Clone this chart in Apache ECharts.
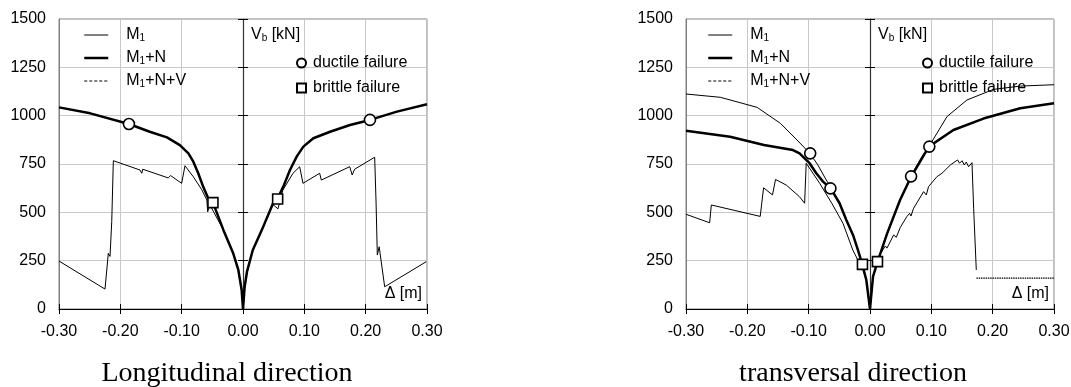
<!DOCTYPE html>
<html>
<head>
<meta charset="utf-8">
<style>
  html, body { margin: 0; padding: 0; background: #fff; }
  #chart { width: 1071px; height: 387px; }
</style>
<script src="https://cdn.jsdelivr.net/npm/echarts@6/dist/echarts.min.js"></script>
</head>
<body>
<div id="chart"></div>
<script>
// ---------- axis ticks ----------
const xTickLabels = ['-0.30', '-0.20', '-0.10', '0.00', '0.10', '0.20', '0.30'];
const yTickLabels = ['0', '250', '500', '750', '1000', '1250', '1500'];
const X_MIN = -0.3, X_MAX = 0.3, X_STEP = 0.1;
const Y_MIN = 0, Y_MAX = 1500, Y_STEP = 250;

// ---------- longitudinal direction: [displacement m, base shear kN] ----------
const longM1 = [[-0.300,1043],[-0.249,1012],[-0.186,957],[-0.152,917],[-0.124,888],[-0.103,848],[-0.089,805],[-0.081,762],[-0.073,702],[-0.065,633],[-0.0566,572],[-0.049,550],[-0.032,409],[-0.016,288],[-0.0076,202],[-0.0022,98],[0,0],[0.0027,115],[0.0065,193],[0.016,305],[0.033,426],[0.049,547],[0.056,569],[0.0657,633],[0.0766,719],[0.0875,788],[0.0984,840],[0.1147,883],[0.142,917],[0.1745,952],[0.207,978],[0.251,1021],[0.300,1059]];
const longM1N = [[-0.300,1043],[-0.249,1012],[-0.186,957],[-0.152,917],[-0.124,888],[-0.103,848],[-0.089,805],[-0.081,762],[-0.073,702],[-0.065,633],[-0.0566,572],[-0.049,550],[-0.032,409],[-0.016,288],[-0.0076,202],[-0.0022,98],[0,0],[0.0027,115],[0.0065,193],[0.016,305],[0.033,426],[0.049,547],[0.056,569],[0.0657,633],[0.0766,719],[0.0875,788],[0.0984,840],[0.1147,883],[0.142,917],[0.1745,952],[0.207,978],[0.251,1021],[0.300,1059]];
const longM1NV = [[-0.300,248],[-0.225,103],[-0.2196,288],[-0.2168,272],[-0.214,452],[-0.2114,767],[-0.168,719],[-0.165,702],[-0.1635,723],[-0.122,678],[-0.118,690],[-0.100,650],[-0.0946,741],[-0.081,684],[-0.067,616],[-0.059,564],[-0.0576,503],[-0.054,538],[-0.032,409],[-0.016,288],[-0.0076,202],[-0.0022,98],[0,0],[0.0027,115],[0.0065,193],[0.016,305],[0.033,426],[0.049,540],[0.057,518],[0.065,615],[0.0815,702],[0.0924,736],[0.0978,650],[0.1005,659],[0.125,702],[0.1277,667],[0.130,676],[0.174,736],[0.178,693],[0.182,723],[0.2147,785],[0.217,547],[0.219,279],[0.222,322],[0.231,115],[0.299,245]];
const longDuctile = [[-0.186,957],[0.207,978]];
const longBrittle = [[-0.049,550],[0.0565,569]];

// ---------- transversal direction ----------
const transM1 = [[-0.300,1112],[-0.244,1095],[-0.184,1043],[-0.146,960],[-0.119,874],[-0.098,805],[-0.085,745],[-0.0713,667],[-0.063,626],[-0.0496,547],[-0.0386,460],[-0.0277,383],[-0.0196,305],[-0.0126,232],[-0.006,150],[0,0],[0.0049,167],[0.0124,247],[0.028,393],[0.049,566],[0.067,690],[0.085,790],[0.097,845],[0.1255,995],[0.158,1081],[0.2015,1136],[0.245,1153],[0.300,1160]];
const transM1N = [[-0.300,922],[-0.228,891],[-0.173,848],[-0.1256,822],[-0.1148,805],[-0.1066,779],[-0.0985,754],[-0.0876,702],[-0.0766,659],[-0.0642,624],[-0.0496,547],[-0.0386,460],[-0.0277,383],[-0.0196,305],[-0.0126,231],[-0.006,150],[0,0],[0.0049,167],[0.0124,245],[0.028,391],[0.049,564],[0.067,684],[0.096,840],[0.136,926],[0.185,985],[0.245,1038],[0.300,1064]];
const transM1NV = [[-0.300,490],[-0.2615,446],[-0.2587,538],[-0.179,479],[-0.1735,627],[-0.159,590],[-0.154,670],[-0.1365,641],[-0.115,581],[-0.1066,547],[-0.104,754],[-0.082,650],[-0.062,545],[-0.059,552],[-0.044,443],[-0.028,305],[-0.017,236],[-0.0126,215],[-0.006,150],[0,0],[0.0049,167],[0.0124,245],[0.014,271],[0.025,326],[0.0277,315],[0.0385,383],[0.0429,371],[0.0494,422],[0.060,478],[0.0646,495],[0.0668,481],[0.0711,521],[0.0874,607],[0.0918,590],[0.0955,633],[0.109,684],[0.1174,702],[0.131,745],[0.1428,771],[0.146,754],[0.150,767],[0.1537,745],[0.157,760],[0.1608,736],[0.1663,757],[0.169,521],[0.1733,202]];
const transM1NVTail = [[0.1735,160],[0.300,160]];
const transDuctile = [[-0.0975,805],[-0.0645,624],[0.067,686],[0.0967,840]];
const transBrittle = [[-0.0123,231],[0.0122,245]];

// ---------- styling ----------
const SANS = '"Liberation Sans", Arial, Helvetica, sans-serif';
const SERIF = '"Liberation Serif", "Times New Roman", serif';
const GRID_GRAY = '#c8c8c8';
const subRich = { s: { fontSize: 10, fontFamily: SANS, color: '#000', verticalAlign: 'bottom', lineHeight: 6 } };
const HIDDEN_SYMBOL = { color: 'rgba(0,0,0,0)', borderColor: 'rgba(0,0,0,0)', borderWidth: 0, opacity: 0 };

const grids = [
  { left: 59, top: 19, width: 368, height: 290 },
  { left: 686, top: 19, width: 368, height: 290 }
];

function xAxes(gridIndex) {
  const base = {
    type: 'value', gridIndex, min: X_MIN, max: X_MAX, interval: X_STEP, position: 'bottom'
  };
  return [
    Object.assign({}, base, {
      axisLine: { show: true, onZero: false, lineStyle: { color: '#000', width: 1 } },
      axisTick: { show: true, inside: false, length: 5, lineStyle: { color: '#000', width: 1 } },
      axisLabel: {
        margin: 15, fontSize: 16, fontFamily: SANS, color: '#000',
        formatter: v => xTickLabels[Math.round((v - X_MIN) / X_STEP)]
      },
      splitLine: { show: true, lineStyle: { color: GRID_GRAY, width: 1 } },
      name: 'Δ [m]', nameLocation: 'end', nameGap: -5,
      nameTextStyle: { fontSize: 16, fontFamily: SANS, color: '#000', align: 'right', verticalAlign: 'bottom', padding: [0, 0, 7, 0] }
    }),
    Object.assign({}, base, {
      axisLine: { show: false, onZero: false },
      axisTick: { show: true, inside: true, length: 5, lineStyle: { color: '#000', width: 1 } },
      axisLabel: { show: false },
      splitLine: { show: false }
    })
  ];
}

function yAxes(gridIndex) {
  const base = { type: 'value', gridIndex, min: Y_MIN, max: Y_MAX, interval: Y_STEP };
  return [
    Object.assign({}, base, {
      position: 'left',
      axisLine: { show: true, onZero: false, lineStyle: { color: '#808080', width: 1 } },
      axisTick: { show: false },
      axisLabel: {
        margin: 13, fontSize: 16, fontFamily: SANS, color: '#000',
        formatter: v => yTickLabels[Math.round(v / Y_STEP)]
      },
      splitLine: { show: true, lineStyle: { color: GRID_GRAY, width: 1 } }
    }),
    // vertical axis through zero displacement
    Object.assign({}, base, {
      position: 'left',
      axisLine: { show: true, onZero: true, lineStyle: { color: '#333', width: 1.2 } },
      axisTick: { show: true, inside: false, length: 5, lineStyle: { color: '#000', width: 1 } },
      axisLabel: { show: false },
      splitLine: { show: false },
      name: 'V{s|b} [kN]', nameLocation: 'end', nameGap: -16,
      nameTextStyle: { fontSize: 16, fontFamily: SANS, color: '#000', align: 'left', verticalAlign: 'middle', padding: [0, 0, 0, 8], rich: subRich }
    }),
    Object.assign({}, base, {
      position: 'left',
      axisLine: { show: false, onZero: true },
      axisTick: { show: true, inside: true, length: 5, lineStyle: { color: '#000', width: 1 } },
      axisLabel: { show: false },
      splitLine: { show: false }
    })
  ];
}

function curve(name, data, xi, yi, width, z, type) {
  return {
    name, type: 'line', data, xAxisIndex: xi, yAxisIndex: yi,
    symbol: 'none', smooth: false, z, silent: true, animation: false,
    itemStyle: { color: '#000' },
    lineStyle: { color: '#000', width, type: type || 'solid' }
  };
}

function markers(name, data, xi, yi, symbol, size) {
  return {
    name, type: 'scatter', data, xAxisIndex: xi, yAxisIndex: yi,
    symbol, symbolSize: size, z: 10, silent: true, animation: false,
    itemStyle: { color: '#fff', borderColor: '#000', borderWidth: 1.6, opacity: 1 }
  };
}

function lineLegend(left) {
  return {
    left, top: 27, orient: 'vertical', selectedMode: false,
    itemWidth: 24, itemHeight: 12, itemGap: 7, padding: 0,
    data: [
      { name: 'M1', itemStyle: HIDDEN_SYMBOL, lineStyle: { width: 1 } },
      { name: 'M1+N', itemStyle: HIDDEN_SYMBOL, lineStyle: { width: 2.5 } },
      { name: 'M1+N+V', itemStyle: HIDDEN_SYMBOL, lineStyle: { type: [3, 2], width: 1 } }
    ],
    formatter: n => n.replace('1', '{s|1}'),
    textStyle: { fontSize: 16, fontFamily: SANS, color: '#000', lineHeight: 16, padding: [0, 0, 0, 13], rich: subRich }
  };
}

function failureLegend(left) {
  return {
    left, top: 55, orient: 'vertical', selectedMode: false,
    itemWidth: 9, itemHeight: 9, itemGap: 9, padding: 0,
    data: ['ductile failure', 'brittle failure'],
    textStyle: { fontSize: 16, fontFamily: SANS, color: '#000', lineHeight: 16, padding: [0, 0, 0, 2] }
  };
}

const titleStyle = { fontFamily: SERIF, fontSize: 28, fontWeight: 'normal', color: '#000' };

const option = {
  animation: false,
  backgroundColor: '#fff',
  grid: grids.map(g => Object.assign({ show: true, borderColor: '#808080', borderWidth: 1, backgroundColor: 'transparent', outerBoundsMode: 'none' }, g)),
  xAxis: [...xAxes(0), ...xAxes(1)],
  yAxis: [...yAxes(0), ...yAxes(1)],
  legend: [lineLegend(83), failureLegend(296), lineLegend(707), failureLegend(922)],
  title: [
    { text: 'Longitudinal direction', left: 227, top: 360, textAlign: 'center', padding: 0, textStyle: titleStyle },
    { text: 'transversal direction', left: 853, top: 360, textAlign: 'center', padding: 0, textStyle: titleStyle }
  ],
  series: [
    curve('M1', longM1, 0, 0, 1, 2),
    curve('M1+N', longM1N, 0, 0, 2.5, 3),
    curve('M1+N+V', longM1NV, 0, 0, 1, 4),
    markers('ductile failure', longDuctile, 0, 0, 'circle', 11),
    markers('brittle failure', longBrittle, 0, 0, 'rect', 10),

    curve('M1', transM1, 2, 3, 1, 2),
    curve('M1+N', transM1N, 2, 3, 2.5, 3),
    curve('M1+N+V', transM1NV, 2, 3, 1, 4),
    curve('M1+N+V', transM1NVTail, 2, 3, 1.2, 4, [1.5, 0.8]),
    markers('ductile failure', transDuctile, 2, 3, 'circle', 11),
    markers('brittle failure', transBrittle, 2, 3, 'rect', 10)
  ]
};

const chart = echarts.init(document.getElementById('chart'), null, { renderer: 'canvas' });
chart.setOption(option);
</script>
</body>
</html>
